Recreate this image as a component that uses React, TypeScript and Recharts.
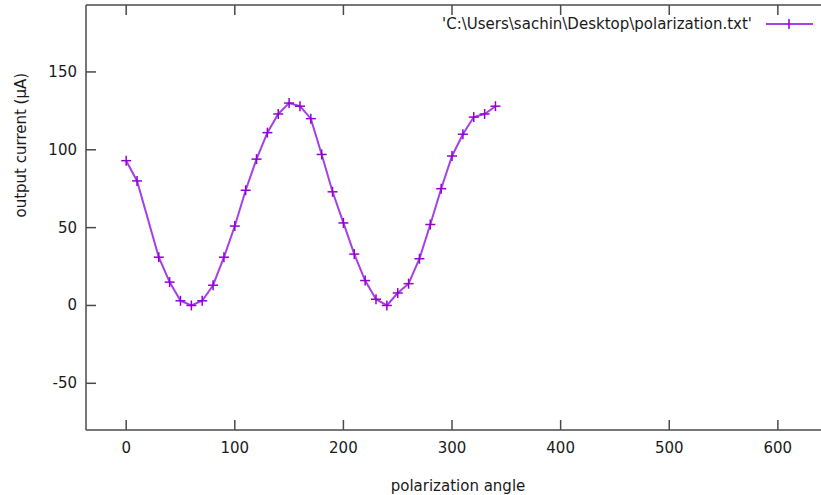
import { Line, LineChart, XAxis, YAxis } from "recharts";

const angles = [
  0, 10, 30, 40, 50, 60, 70, 80, 90, 100, 110, 120, 130, 140, 150, 160, 170,
  180, 190, 200, 210, 220, 230, 240, 250, 260, 270, 280, 290, 300, 310, 320,
  330, 340,
];
const currents = [
  93, 80, 31, 15, 3, 0, 3, 13, 31, 51, 74, 94, 111, 123, 130, 128, 120, 97, 73,
  53, 33, 16, 4, 0, 8, 14, 30, 52, 75, 96, 110, 121, 123, 128,
];
const xTicks = [0, 100, 200, 300, 400, 500, 600];
const yTicks = [-50, 0, 50, 100, 150];
const seriesName = "'C:\\Users\\sachin\\Desktop\\polarization.txt'";
const xTitle = "polarization angle";
const yTitle = "output current (µA)";

const data = angles.map((a, i) => ({ angle: a, current: currents[i] }));

const FONT = "'DejaVu Sans', sans-serif";
const AXIS = "#4a4a4a";
const LINE = "#a540e6";
const MARK = "#9400d3";

function BottomTick(props: any) {
  const { x, y, payload } = props;
  return (
    <g>
      <line x1={x} x2={x} y1={y} y2={y - 10} stroke={AXIS} strokeWidth={1.5} />
      <text
        x={x}
        y={y + 23}
        textAnchor="middle"
        fontFamily={FONT}
        fontSize={15}
        fill="#1a1a1a"
      >
        {payload.value}
      </text>
    </g>
  );
}

function TopTick(props: any) {
  const { x, y } = props;
  return <line x1={x} x2={x} y1={y} y2={y + 10} stroke={AXIS} strokeWidth={1.5} />;
}

function LeftTick(props: any) {
  const { x, y, payload } = props;
  return (
    <g>
      <line x1={x} x2={x + 10} y1={y} y2={y} stroke={AXIS} strokeWidth={1.5} />
      <text
        x={x - 9}
        y={y + 5}
        textAnchor="end"
        fontFamily={FONT}
        fontSize={15}
        fill="#1a1a1a"
      >
        {payload.value}
      </text>
    </g>
  );
}

function PlusDot(props: any) {
  const { cx, cy } = props;
  if (cx == null || cy == null) return null;
  return (
    <g>
      <line x1={cx - 5} x2={cx + 5} y1={cy} y2={cy} stroke={MARK} strokeWidth={1.5} />
      <line x1={cx} x2={cx} y1={cy - 5} y2={cy + 5} stroke={MARK} strokeWidth={1.5} />
    </g>
  );
}

export default function App() {
  return (
    <div
      style={{
        position: "fixed",
        left: 0,
        top: 0,
        width: 821,
        height: 495,
        overflow: "hidden",
        background: "#fff",
      }}
    >
      <LineChart
        width={830}
        height={495}
        data={data}
        margin={{ top: 4, right: 0, left: 0, bottom: 0 }}
      >
        <XAxis
          dataKey="angle"
          type="number"
          domain={[-37, 648]}
          ticks={xTicks}
          allowDataOverflow
          height={65}
          tickSize={0}
          tickMargin={0}
          tickLine={false}
          axisLine={{ stroke: AXIS, strokeWidth: 1.5 }}
          tick={<BottomTick />}
          label={{
            value: xTitle,
            position: "insideBottom",
            offset: 2,
            fontFamily: FONT,
            fontSize: 15,
            fill: "#1a1a1a",
            dy: -2,
          }}
        />
        <XAxis
          xAxisId="top"
          orientation="top"
          dataKey="angle"
          type="number"
          domain={[-37, 648]}
          ticks={xTicks}
          allowDataOverflow
          height={1}
          tickSize={0}
          tickMargin={0}
          tickLine={false}
          axisLine={{ stroke: AXIS, strokeWidth: 1.5 }}
          tick={<TopTick />}
        />
        <YAxis
          type="number"
          domain={[-80, 193]}
          ticks={yTicks}
          allowDataOverflow
          width={86}
          tickSize={0}
          tickMargin={0}
          tickLine={false}
          axisLine={{ stroke: AXIS, strokeWidth: 1.5 }}
          tick={<LeftTick />}
          label={{
            value: yTitle,
            angle: -90,
            position: "insideLeft",
            offset: 0,
            dx: 21,
            fontFamily: FONT,
            fontSize: 15,
            fill: "#1a1a1a",
          }}
        />
        <Line
          xAxisId="top"
          dataKey="current"
          stroke="none"
          dot={false}
          activeDot={false}
          legendType="none"
          isAnimationActive={false}
        />
        <Line
          type="linear"
          dataKey="current"
          name={seriesName}
          stroke={LINE}
          strokeWidth={2}
          dot={<PlusDot />}
          activeDot={false}
          isAnimationActive={false}
        />
      </LineChart>
      <div
        style={{
          position: "absolute",
          top: 14,
          right: 69,
          fontFamily: FONT,
          fontSize: 15,
          color: "#1a1a1a",
          whiteSpace: "nowrap",
          lineHeight: "20px",
        }}
      >
        {seriesName}
      </div>
      <svg
        style={{ position: "absolute", left: 766, top: 18 }}
        width={48}
        height={14}
      >
        <line x1={0} x2={47} y1={6} y2={6} stroke={LINE} strokeWidth={2} />
        <line x1={23} x2={23} y1={1} y2={11} stroke={MARK} strokeWidth={1.5} />
      </svg>
    </div>
  );
}
